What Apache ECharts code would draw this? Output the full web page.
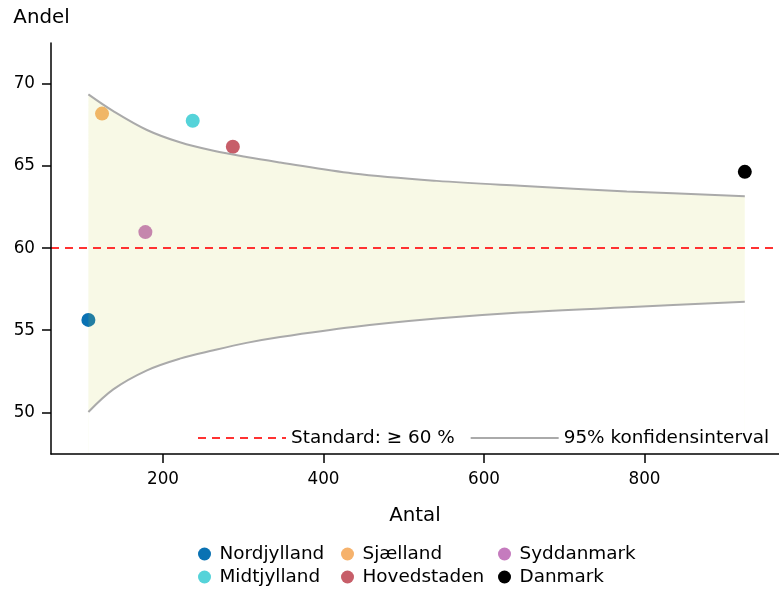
<!DOCTYPE html>
<html>
<head>
<meta charset="utf-8">
<script src="https://cdn.jsdelivr.net/npm/echarts@6/dist/echarts.min.js"></script>
<style>html,body{margin:0;padding:0;background:#fff}#c{width:779px;height:590px}</style>
</head>
<body>
<div id="c"></div>
<script>
// ---- data ----
const regions = ['Nordjylland', 'Sjælland', 'Syddanmark', 'Midtjylland', 'Hovedstaden', 'Danmark'];
const antal = [107, 124, 178, 237, 287, 925];
const andel = [55.63, 68.2, 60.98, 67.76, 66.18, 64.65];
const ciAntal = [107, 138, 180, 221, 263, 304, 346, 437, 541, 645, 778, 925];
const ciUpper = [69.37, 68.35, 67.2, 66.45, 65.93, 65.55, 65.22, 64.55, 64.1, 63.8, 63.46, 63.17];
const ciLower = [50.02, 51.4, 52.56, 53.27, 53.78, 54.23, 54.59, 55.2, 55.71, 56.08, 56.4, 56.73];
const standard = 60;
const xTicks = [200, 400, 600, 800];
const yTicks = [50, 55, 60, 65, 70];
const standardName = 'Standard: ≥ 60 %';
const ciName = '95% konfidensinterval';

// ---- styles ----
const regionColors = ['#0a72b3', '#f6b26c', '#c57bbe', '#55d3d9', '#c75e69', '#000000'];
const FONT = 'DejaVu Sans';
const bandColor = 'rgba(200,212,60,0.13)';
const ciColor = '#aaaaaa';
const redColor = '#ff3232';

const chart = echarts.init(document.getElementById('c'), null, {renderer: 'canvas'});

const series = [];
// upper CI line, band fill below it
series.push({
  type: 'line', name: ciName, data: ciAntal.map((x, i) => [x, ciUpper[i]]),
  symbol: 'none', smooth: 0.35,
  lineStyle: {color: ciColor, width: 2}, itemStyle: {color: ciColor},
  areaStyle: {color: bandColor, opacity: 1, origin: 'start'}, z: 3
});
// lower CI line, blank out below it
series.push({
  type: 'line', name: ciName, data: ciAntal.map((x, i) => [x, ciLower[i]]),
  symbol: 'none', smooth: 0.35,
  lineStyle: {color: ciColor, width: 2}, itemStyle: {color: ciColor},
  areaStyle: {color: '#ffffff', opacity: 1, origin: 'start'}, z: 4
});
// standard line
series.push({
  type: 'line', name: standardName, data: [], symbol: 'none',
  lineStyle: {color: redColor, width: 2, type: [8, 6]}, itemStyle: {color: redColor}, z: 5,
  markLine: {
    symbol: 'none', silent: true, label: {show: false},
    lineStyle: {color: redColor, width: 2, type: [8, 6]},
    data: [{yAxis: standard}]
  }
});
// points
regions.forEach((r, i) => {
  series.push({
    type: 'scatter', name: r, data: [[antal[i], andel[i]]],
    symbol: 'circle', symbolSize: 14, itemStyle: {color: regionColors[i], opacity: 1}, z: 2
  });
});

const legendText = {fontFamily: FONT, fontSize: 18.4, color: '#000', lineHeight: 20};
const colLegend = (names, left) => ({
  orient: 'vertical', left: left, top: 544, itemWidth: 20, itemHeight: 13, itemGap: 3, z: 20,
  icon: 'circle', data: names, textStyle: legendText, padding: 0, selectedMode: false
});

chart.setOption({
  animation: false,
  backgroundColor: '#fff',
  textStyle: {fontFamily: FONT},
  grid: {left: 51, top: 43, right: 0, bottom: 136, containLabel: false},
  xAxis: {
    type: 'value', min: 60.4, max: 967.6, z: 10,
    name: 'Antal', nameLocation: 'middle', nameGap: 52,
    nameTextStyle: {fontFamily: FONT, fontSize: 19.8, color: '#000'},
    axisLine: {onZero: false, lineStyle: {color: '#000', width: 1.5}},
    axisTick: {show: true, length: 9, lineStyle: {color: '#000', width: 1.5}, customValues: xTicks},
    axisLabel: {fontFamily: FONT, fontSize: 16.8, color: '#000', margin: 17, customValues: xTicks},
    splitLine: {show: false}
  },
  yAxis: {
    type: 'value', min: 47.46, max: 72.5, z: 10,
    name: 'Andel', nameLocation: 'end', nameGap: 15,
    nameTextStyle: {fontFamily: FONT, fontSize: 19.8, color: '#000', align: 'center', padding: [0, 19, 0, 0]},
    axisLine: {show: true, lineStyle: {color: '#000', width: 1.5}},
    axisTick: {show: true, length: 9, lineStyle: {color: '#000', width: 1.5}, customValues: yTicks},
    axisLabel: {fontFamily: FONT, fontSize: 16.8, color: '#000', margin: 16, customValues: yTicks},
    splitLine: {show: false}
  },
  legend: [
    {
      orient: 'horizontal', left: 197, top: 428, itemWidth: 88, itemHeight: 14, itemGap: 15, padding: 0, z: 20,
      data: [standardName, ciName], textStyle: legendText, selectedMode: false,
      itemStyle: {opacity: 0}
    },
    colLegend([regions[0], regions[3]], 198),
    colLegend([regions[1], regions[4]], 341),
    colLegend([regions[2], regions[5]], 498)
  ],
  series: series
});
</script>
</body>
</html>
